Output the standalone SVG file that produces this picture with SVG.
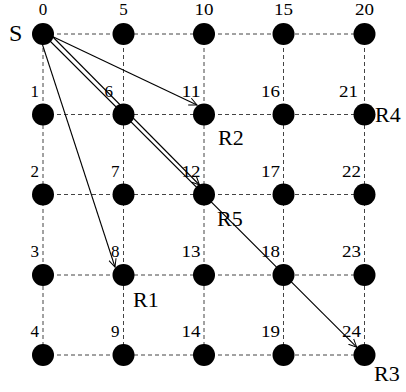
<svg xmlns="http://www.w3.org/2000/svg" width="406" height="392" viewBox="0 0 406 392">
<defs>
<style>
.grid{stroke:#444;stroke-width:1;stroke-dasharray:4,3;fill:none}
.arr{stroke:#000;stroke-width:1.1;fill:none;marker-end:url(#ah)}
.node{fill:#000}
.num{font-family:"Liberation Serif","Times New Roman",serif;font-size:17px;fill:#000}
.lbl{font-family:"Liberation Serif","Times New Roman",serif;font-size:22px;fill:#000}
</style>
<marker id="ah" markerUnits="userSpaceOnUse" markerWidth="10" markerHeight="10" refX="8" refY="4" orient="auto" viewBox="0 0 10 8">
<path d="M0,0.3 L8,4 L0,7.7" fill="none" stroke="#000" stroke-width="1"/>
</marker>
</defs>
<rect width="406" height="392" fill="#fff"/>
<g id="grid">
<path class="grid" d="M43,34H364.5M43,114.5H364.5M43,194.5H364.5M43,275H364.5M43,355H364.5M43,34V355M123.5,34V355M204,34V355M283.5,34V355M364.5,34V355"/>
</g>
<g id="connectors">
<line class="arr" x1="39" y1="34" x2="115" y2="267"/>
<line class="arr" x1="43" y1="32" x2="197" y2="105"/>
<line class="arr" x1="46.5" y1="30.5" x2="199.5" y2="185"/>
<line class="arr" x1="43" y1="34" x2="356.7" y2="347.2"/>
</g>
<g id="n0"><circle class="node" cx="43" cy="34" r="11"/><text class="num" x="43" y="15" text-anchor="middle">0</text></g>
<g id="n1"><circle class="node" cx="43" cy="114.5" r="11"/><text class="num" x="39" y="96.5" text-anchor="end">1</text></g>
<g id="n2"><circle class="node" cx="43" cy="194.5" r="11"/><text class="num" x="39" y="176.5" text-anchor="end">2</text></g>
<g id="n3"><circle class="node" cx="43" cy="275" r="11"/><text class="num" x="39" y="257" text-anchor="end">3</text></g>
<g id="n4"><circle class="node" cx="43" cy="355" r="11"/><text class="num" x="39" y="337" text-anchor="end">4</text></g>
<g id="n5"><circle class="node" cx="123.5" cy="34" r="11"/><text class="num" x="123.5" y="15" text-anchor="middle">5</text></g>
<g id="n6"><circle class="node" cx="123.5" cy="114.5" r="11"/><text class="num" x="113" y="96.5" text-anchor="end">6</text></g>
<g id="n7"><circle class="node" cx="123.5" cy="194.5" r="11"/><text class="num" x="119.5" y="176.5" text-anchor="end">7</text></g>
<g id="n8"><circle class="node" cx="123.5" cy="275" r="11"/><text class="num" x="119.5" y="257" text-anchor="end">8</text></g>
<g id="n9"><circle class="node" cx="123.5" cy="355" r="11"/><text class="num" x="119.5" y="337" text-anchor="end">9</text></g>
<g id="n10"><circle class="node" cx="204" cy="34" r="11"/><text class="num" x="204" y="15" text-anchor="middle" textLength="19" lengthAdjust="spacingAndGlyphs">10</text></g>
<g id="n11"><circle class="node" cx="204" cy="114.5" r="11"/><text class="num" x="200.5" y="96.5" text-anchor="end" textLength="19" lengthAdjust="spacingAndGlyphs">11</text></g>
<g id="n12"><circle class="node" cx="204" cy="194.5" r="11"/><text class="num" x="200.5" y="176.5" text-anchor="end" textLength="19" lengthAdjust="spacingAndGlyphs">12</text></g>
<g id="n13"><circle class="node" cx="204" cy="275" r="11"/><text class="num" x="200.5" y="257" text-anchor="end" textLength="19" lengthAdjust="spacingAndGlyphs">13</text></g>
<g id="n14"><circle class="node" cx="204" cy="355" r="11"/><text class="num" x="200.5" y="337" text-anchor="end" textLength="19" lengthAdjust="spacingAndGlyphs">14</text></g>
<g id="n15"><circle class="node" cx="283.5" cy="34" r="11"/><text class="num" x="283.5" y="15" text-anchor="middle" textLength="19" lengthAdjust="spacingAndGlyphs">15</text></g>
<g id="n16"><circle class="node" cx="283.5" cy="114.5" r="11"/><text class="num" x="280" y="96.5" text-anchor="end" textLength="19" lengthAdjust="spacingAndGlyphs">16</text></g>
<g id="n17"><circle class="node" cx="283.5" cy="194.5" r="11"/><text class="num" x="280" y="176.5" text-anchor="end" textLength="19" lengthAdjust="spacingAndGlyphs">17</text></g>
<g id="n18"><circle class="node" cx="283.5" cy="275" r="11"/><text class="num" x="280" y="257" text-anchor="end" textLength="19" lengthAdjust="spacingAndGlyphs">18</text></g>
<g id="n19"><circle class="node" cx="283.5" cy="355" r="11"/><text class="num" x="280" y="337" text-anchor="end" textLength="19" lengthAdjust="spacingAndGlyphs">19</text></g>
<g id="n20"><circle class="node" cx="364.5" cy="34" r="11"/><text class="num" x="364.5" y="15" text-anchor="middle" textLength="19" lengthAdjust="spacingAndGlyphs">20</text></g>
<g id="n21"><circle class="node" cx="364.5" cy="114.5" r="11"/><text class="num" x="358" y="96.5" text-anchor="end" textLength="19" lengthAdjust="spacingAndGlyphs">21</text></g>
<g id="n22"><circle class="node" cx="364.5" cy="194.5" r="11"/><text class="num" x="361" y="176.5" text-anchor="end" textLength="19" lengthAdjust="spacingAndGlyphs">22</text></g>
<g id="n23"><circle class="node" cx="364.5" cy="275" r="11"/><text class="num" x="361" y="257" text-anchor="end" textLength="19" lengthAdjust="spacingAndGlyphs">23</text></g>
<g id="n24"><circle class="node" cx="364.5" cy="355" r="11"/><text class="num" x="361" y="337" text-anchor="end" textLength="19" lengthAdjust="spacingAndGlyphs">24</text></g>
<g id="labels">
<text class="lbl" x="9" y="41" style="font-size:24px">S</text>
<text class="lbl" x="218" y="145">R2</text>
<text class="lbl" x="217" y="226">R5</text>
<text class="lbl" x="133" y="306.5">R1</text>
<text class="lbl" x="374" y="381">R3</text>
<text class="lbl" x="375" y="122">R4</text>
</g>
</svg>
